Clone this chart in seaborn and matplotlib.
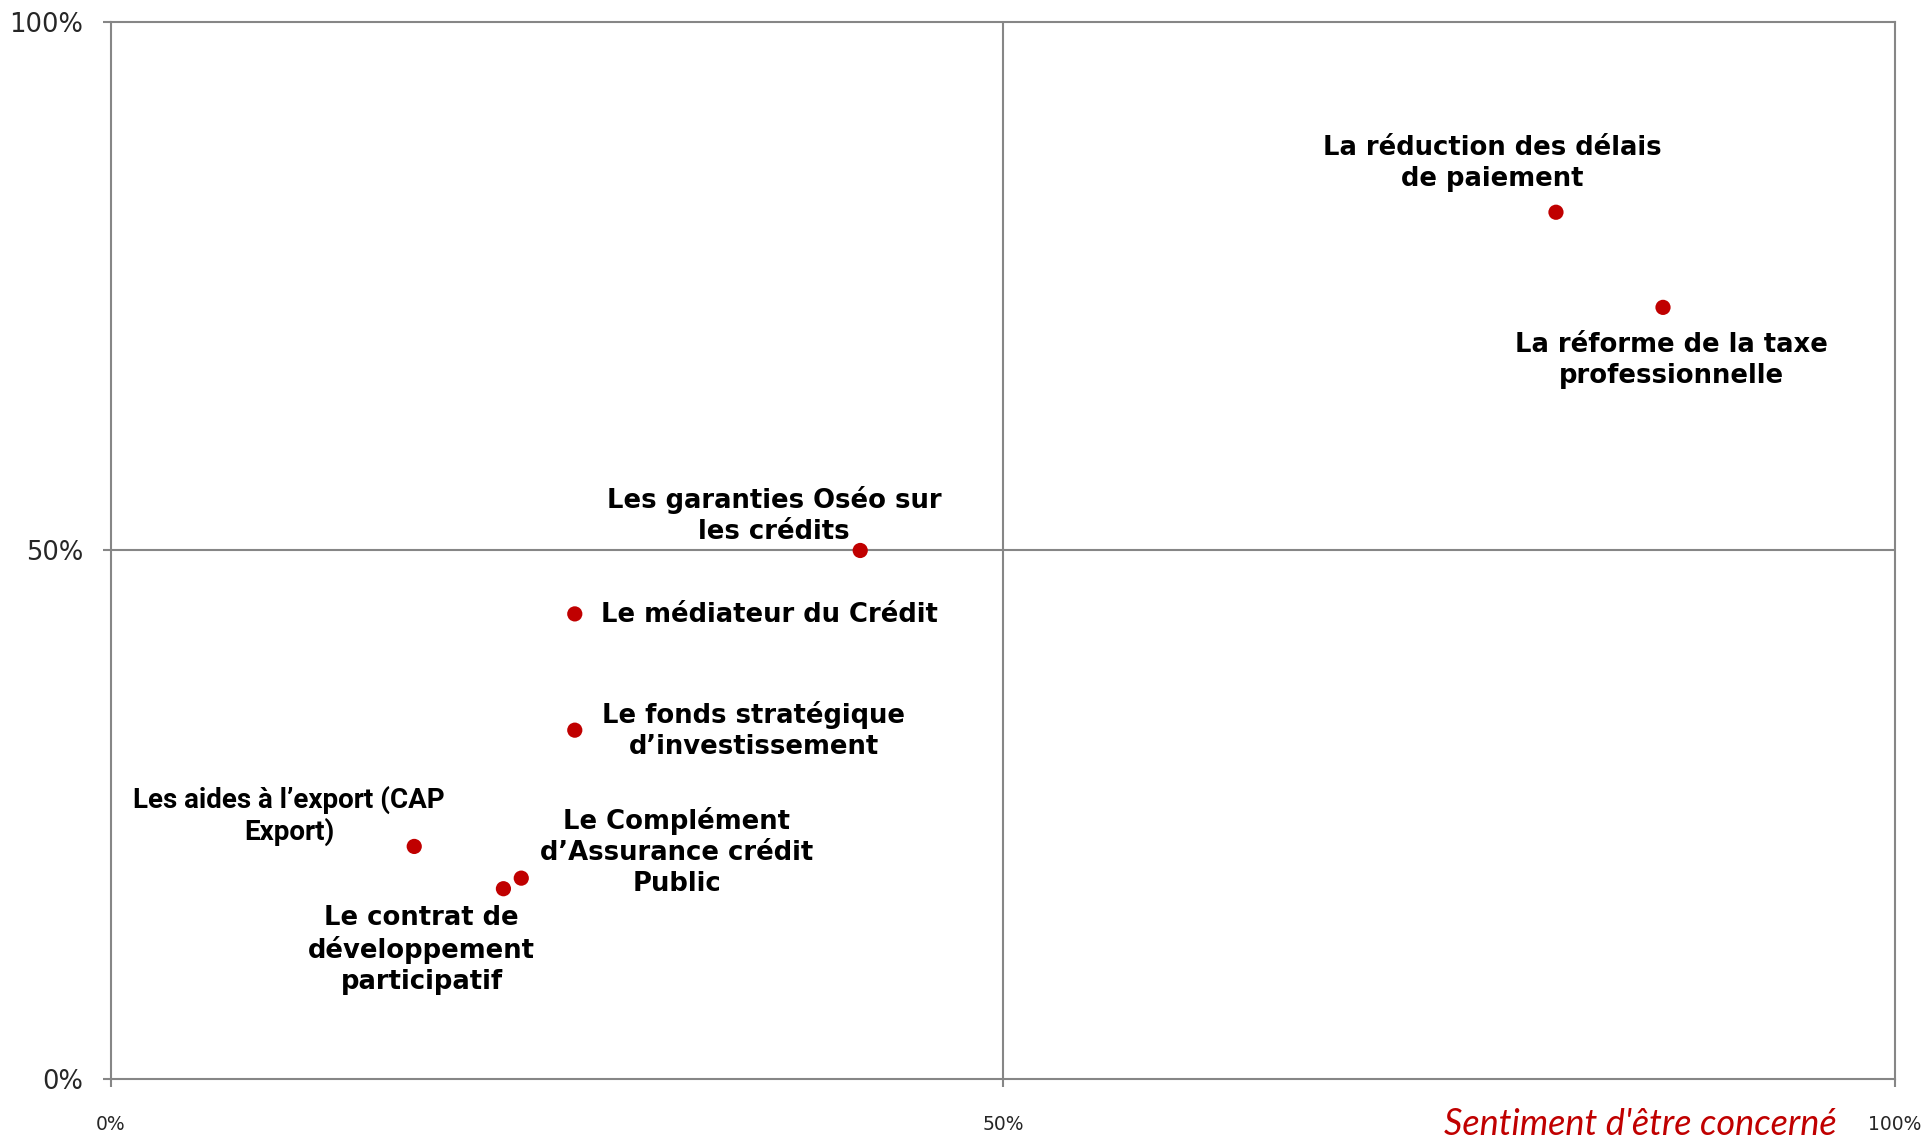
import pandas as pd
import matplotlib.pyplot as plt
import seaborn as sns

# Data (x = sentiment d'être concerné, y = second axis)
labels = [
    "La réduction des délais\nde paiement",
    "La réforme de la taxe\nprofessionnelle",
    "Les garanties Oséo sur\nles crédits",
    "Le médiateur du Crédit",
    "Le fonds stratégique\nd’investissement",
    "Les aides à l’export (CAP\nExport)",
    "Le Complément\nd’Assurance crédit\nPublic",
    "Le contrat de\ndéveloppement\nparticipatif",
]
x_values = [0.81, 0.87, 0.42, 0.26, 0.26, 0.17, 0.23, 0.22]
y_values = [0.82, 0.73, 0.50, 0.44, 0.33, 0.22, 0.19, 0.18]

tick_values = [0, 0.5, 1]
tick_labels = ["0%", "50%", "100%"]

# label offsets (points) and horizontal alignment, tuned to the picture
offsets = [(-46, 35), (6, -38), (-62, 25), (19, -1), (129, 0), (-90, 22), (112, 19), (-59, -44)]
aligns = ["center", "center", "center", "left", "center", "center", "center", "center"]
# the export label is squeezed in the original
narrow = [False, False, False, False, False, True, False, False]

df = pd.DataFrame({"label": labels, "x": x_values, "y": y_values})

sns.set_theme(style="white")
plt.rcParams['font.family'] = ['DejaVu Sans']

grey = "#868686"
red = "#C00000"

fig = plt.figure(figsize=(19.33, 11.39), dpi=100)
ax = fig.add_axes([0.0574, 0.0527, 0.9229, 0.928])

# quadrant lines
ax.axvline(0.5, color=grey, lw=1.5, zorder=1)
ax.axhline(0.5, color=grey, lw=1.5, zorder=1)

sns.scatterplot(data=df, x="x", y="y", ax=ax, color=red, s=120,
                edgecolor="none", zorder=3, legend=False)

for lab, px, py, off, ha, nar in zip(df["label"], df["x"], df["y"], offsets, aligns, narrow):
    if nar:
        fam, size, ls = ["Roboto", "DejaVu Sans"], 20, 1.2
    else:
        fam, size, ls = ["DejaVu Sans"], 18.6, 1.24
    ax.annotate(lab, (px, py), xytext=off, textcoords="offset points",
                ha=ha, va="center", multialignment="center", family=fam,
                fontsize=size, fontweight="bold", color="black", linespacing=ls)

ax.set_xlim(0, 1)
ax.set_ylim(0, 1)
ax.set_xticks(tick_values)
ax.set_xticklabels(tick_labels, fontsize=13.5)
ax.set_yticks(tick_values)
ax.set_yticklabels(tick_labels, fontsize=18.5)
ax.tick_params(axis="x", length=6, width=1.5, color=grey, direction="out", pad=20, bottom=True)
ax.tick_params(axis="y", length=6, width=1.5, color=grey, direction="out", pad=14, left=True)

for side in ["left", "right", "top", "bottom"]:
    ax.spines[side].set_color(grey)
    ax.spines[side].set_linewidth(1.5)

ax.set_xlabel("Sentiment d'être concerné", loc="right", color=red,
              fontsize=26, fontstyle="italic", family=["Lato", "DejaVu Sans"])
ax.xaxis.set_label_coords(0.9675, -0.043)
ax.xaxis.label.set_verticalalignment("center")
ax.set_ylabel("")

fig.savefig("out.png", dpi=100)
